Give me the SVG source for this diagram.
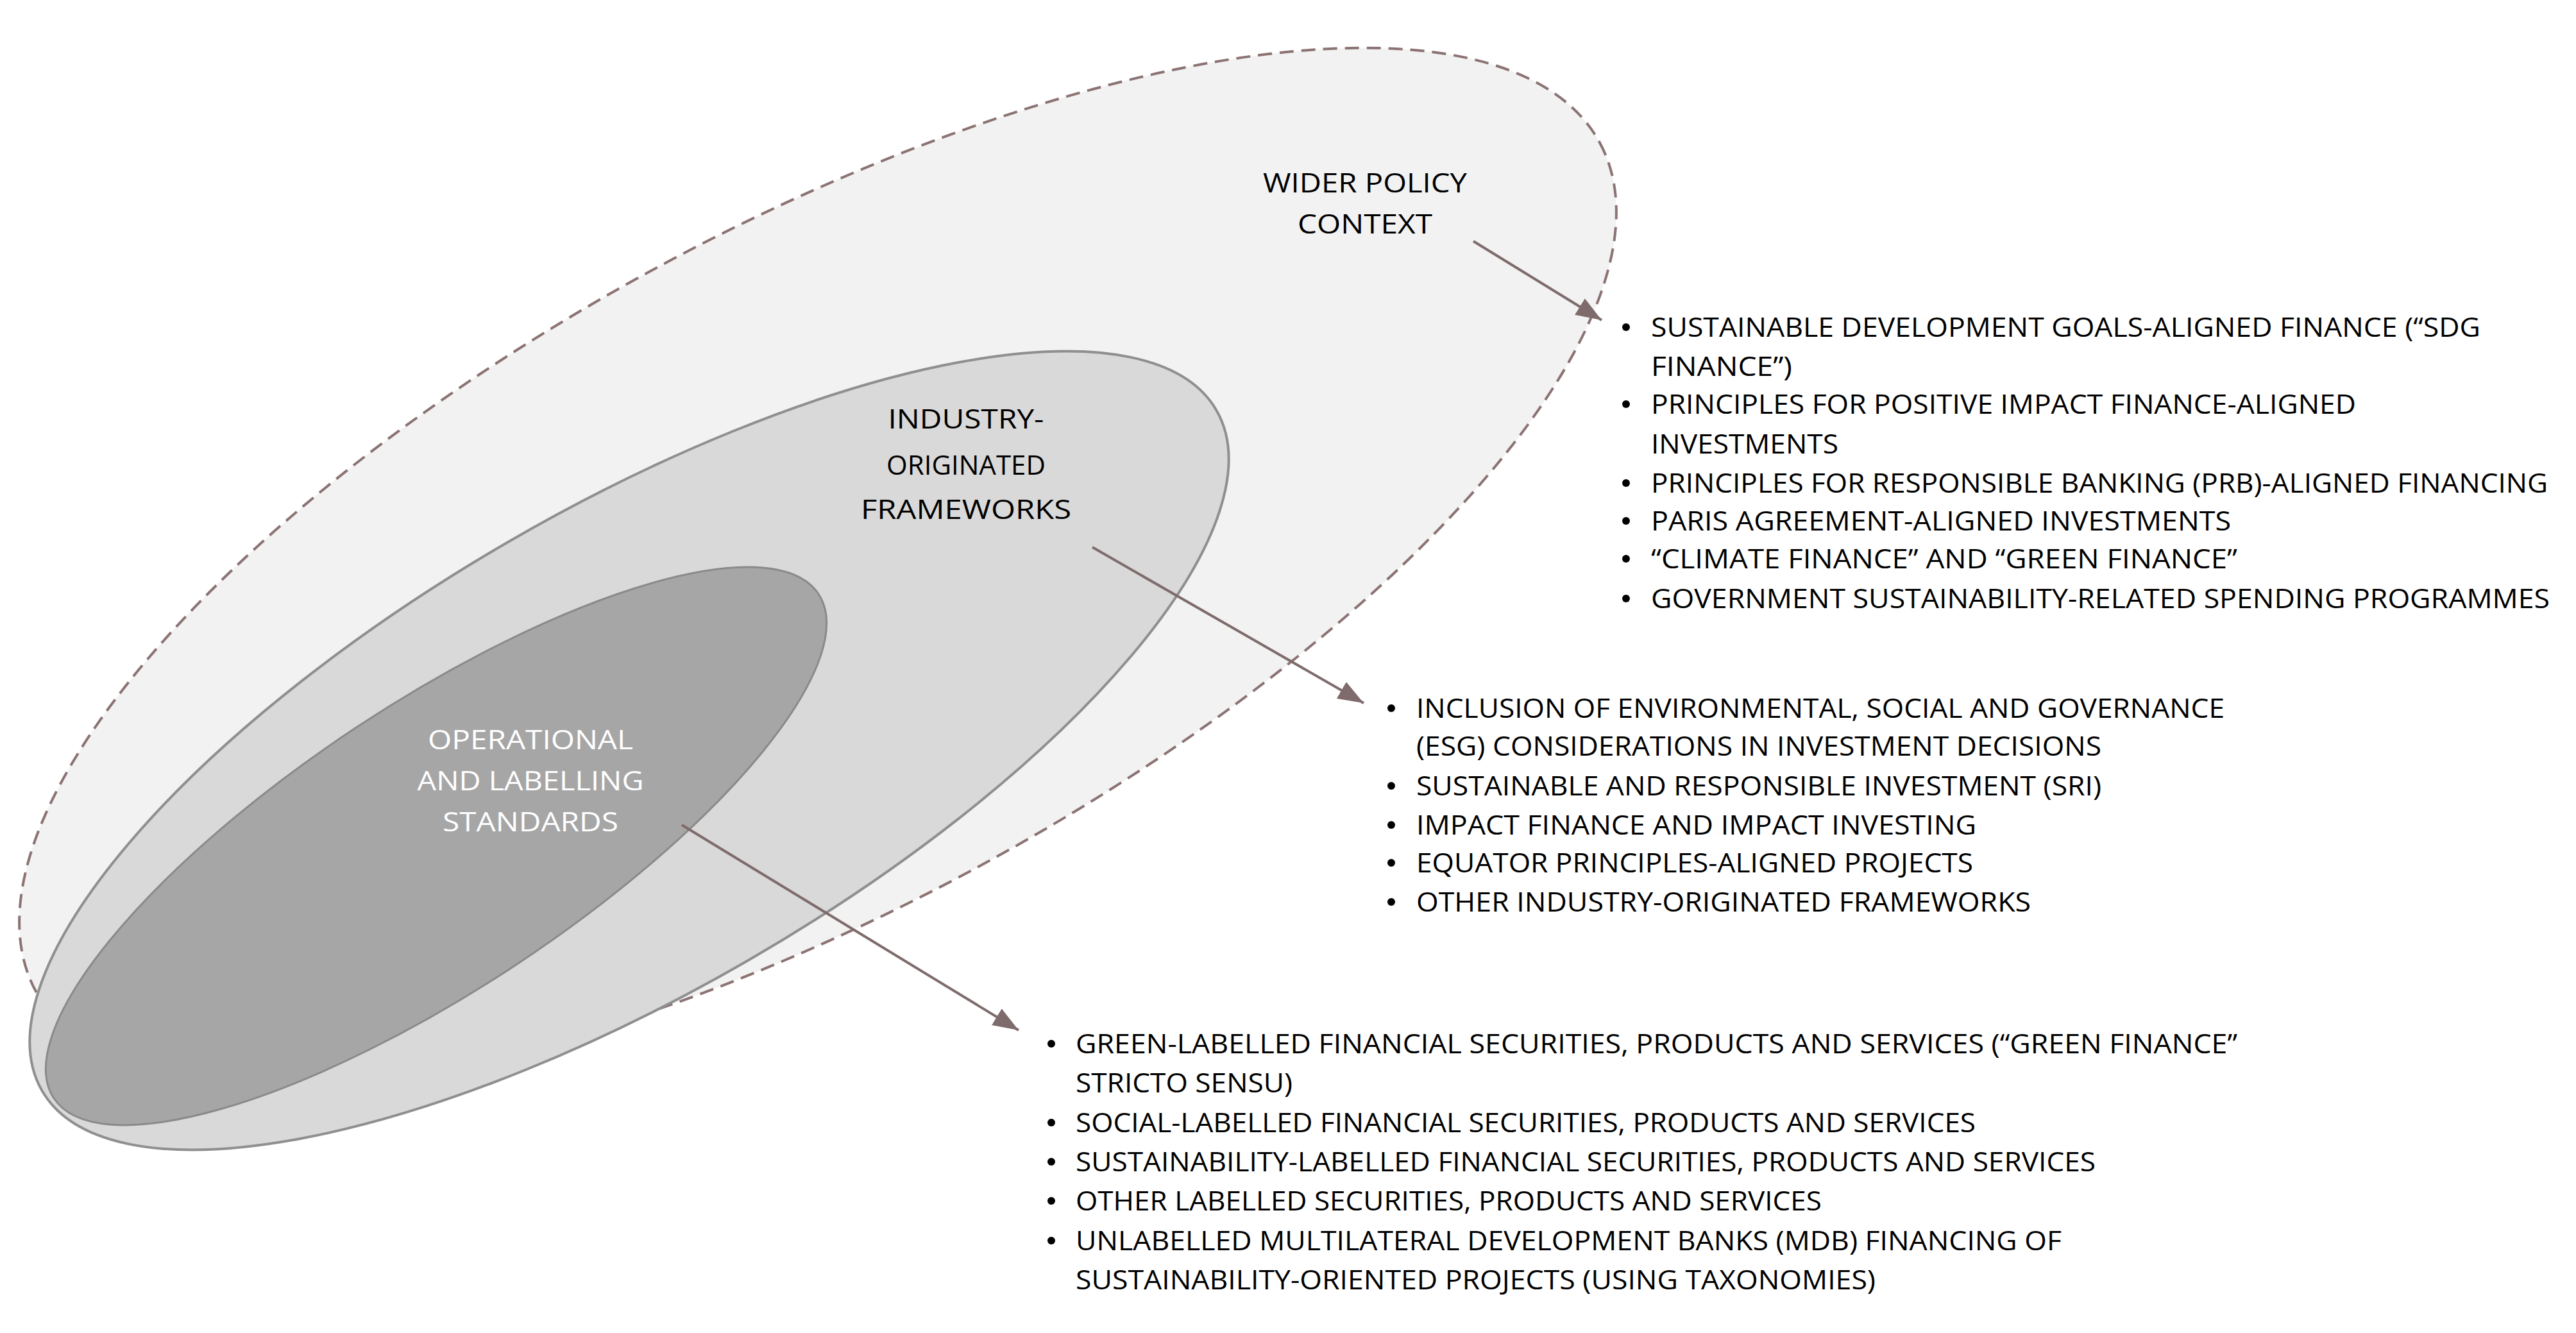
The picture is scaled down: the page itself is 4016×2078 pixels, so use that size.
<svg xmlns="http://www.w3.org/2000/svg" width="4016" height="2078" viewBox="0 0 4016 2078">
<style>
text{font-family:"Open Sans","Liberation Sans",sans-serif;font-size:42px;fill:#000}
.w{fill:#fff}
.c{text-anchor:middle}
.b{fill:#000}
.con{stroke:#7f6b6b;stroke-width:4;fill:none}
</style>
<defs>
<marker id="ah" markerUnits="userSpaceOnUse" markerWidth="44" markerHeight="30" refX="40" refY="15" orient="auto">
<path d="M0,0 L40,15 L0,30 Z" fill="#7f6b6b"/>
</marker>
</defs>
<rect width="4016" height="2078" fill="#fff"/>
<g id="wider">
<ellipse cx="1275" cy="884" rx="1387" ry="530" transform="rotate(-28.5 1275 884)" fill="#f2f2f2" stroke="#8c7373" stroke-width="4" stroke-dasharray="22 12"/>
<text class="c" x="2128" y="300" textLength="318" lengthAdjust="spacingAndGlyphs">WIDER POLICY</text>
<text class="c" x="2128" y="364" textLength="210" lengthAdjust="spacingAndGlyphs">CONTEXT</text>
</g>
<g id="industry">
<ellipse cx="981" cy="1170" rx="1058" ry="376" transform="rotate(-30.1 981 1170)" fill="#d9d9d9" stroke="#8f8f8f" stroke-width="4"/>
<text class="c" x="1506" y="668" textLength="243" lengthAdjust="spacingAndGlyphs">INDUSTRY-</text>
<text class="c" x="1506" y="740" textLength="248" lengthAdjust="spacingAndGlyphs">ORIGINATED</text>
<text class="c" x="1506" y="809" textLength="328" lengthAdjust="spacingAndGlyphs">FRAMEWORKS</text>
</g>
<g id="operational">
<ellipse cx="680" cy="1319" rx="714" ry="223" transform="rotate(-33.4 680 1319)" fill="#a6a6a6" stroke="#8a8a8a" stroke-width="3"/>
<text class="c w" x="827" y="1168" textLength="320" lengthAdjust="spacingAndGlyphs">OPERATIONAL</text>
<text class="c w" x="827" y="1232" textLength="353" lengthAdjust="spacingAndGlyphs">AND LABELLING</text>
<text class="c w" x="827" y="1296" textLength="274" lengthAdjust="spacingAndGlyphs">STANDARDS</text>
</g>
<g id="connectors">
<line class="con" x1="2297" y1="376" x2="2497" y2="499" marker-end="url(#ah)"/>
<line class="con" x1="1703" y1="853" x2="2126" y2="1096" marker-end="url(#ah)"/>
<line class="con" x1="1063" y1="1286" x2="1588" y2="1606" marker-end="url(#ah)"/>
</g>
<g id="list1">
<circle class="b" cx="2535" cy="510" r="6"/>
<text x="2574" y="525" textLength="1293" lengthAdjust="spacingAndGlyphs">SUSTAINABLE DEVELOPMENT GOALS-ALIGNED FINANCE (“SDG</text>
<text x="2574" y="586" textLength="220" lengthAdjust="spacingAndGlyphs">FINANCE”)</text>
<circle class="b" cx="2535" cy="630" r="6"/>
<text x="2574" y="645" textLength="1099" lengthAdjust="spacingAndGlyphs">PRINCIPLES FOR POSITIVE IMPACT FINANCE-ALIGNED</text>
<text x="2574" y="707" textLength="292" lengthAdjust="spacingAndGlyphs">INVESTMENTS</text>
<circle class="b" cx="2535" cy="753" r="6"/>
<text x="2574" y="768" textLength="1398" lengthAdjust="spacingAndGlyphs">PRINCIPLES FOR RESPONSIBLE BANKING (PRB)-ALIGNED FINANCING</text>
<circle class="b" cx="2535" cy="812" r="6"/>
<text x="2574" y="827" textLength="904" lengthAdjust="spacingAndGlyphs">PARIS AGREEMENT-ALIGNED INVESTMENTS</text>
<circle class="b" cx="2535" cy="871" r="6"/>
<text x="2574" y="886" textLength="914" lengthAdjust="spacingAndGlyphs">“CLIMATE FINANCE” AND “GREEN FINANCE”</text>
<circle class="b" cx="2535" cy="933" r="6"/>
<text x="2574" y="948" textLength="1401" lengthAdjust="spacingAndGlyphs">GOVERNMENT SUSTAINABILITY-RELATED SPENDING PROGRAMMES</text>
</g>
<g id="list2">
<circle class="b" cx="2169" cy="1104" r="6"/>
<text x="2208" y="1119" textLength="1260" lengthAdjust="spacingAndGlyphs">INCLUSION OF ENVIRONMENTAL, SOCIAL AND GOVERNANCE</text>
<text x="2208" y="1178" textLength="1068" lengthAdjust="spacingAndGlyphs">(ESG) CONSIDERATIONS IN INVESTMENT DECISIONS</text>
<circle class="b" cx="2169" cy="1225" r="6"/>
<text x="2208" y="1240" textLength="1068" lengthAdjust="spacingAndGlyphs">SUSTAINABLE AND RESPONSIBLE INVESTMENT (SRI)</text>
<circle class="b" cx="2169" cy="1286" r="6"/>
<text x="2208" y="1301" textLength="873" lengthAdjust="spacingAndGlyphs">IMPACT FINANCE AND IMPACT INVESTING</text>
<circle class="b" cx="2169" cy="1345" r="6"/>
<text x="2208" y="1360" textLength="868" lengthAdjust="spacingAndGlyphs">EQUATOR PRINCIPLES-ALIGNED PROJECTS</text>
<circle class="b" cx="2169" cy="1406" r="6"/>
<text x="2208" y="1421" textLength="958" lengthAdjust="spacingAndGlyphs">OTHER INDUSTRY-ORIGINATED FRAMEWORKS</text>
</g>
<g id="list3">
<circle class="b" cx="1639" cy="1627" r="6"/>
<text x="1677" y="1642" textLength="1811" lengthAdjust="spacingAndGlyphs">GREEN-LABELLED FINANCIAL SECURITIES, PRODUCTS AND SERVICES (“GREEN FINANCE”</text>
<text x="1677" y="1703" textLength="338" lengthAdjust="spacingAndGlyphs">STRICTO SENSU)</text>
<circle class="b" cx="1639" cy="1750" r="6"/>
<text x="1677" y="1765" textLength="1403" lengthAdjust="spacingAndGlyphs">SOCIAL-LABELLED FINANCIAL SECURITIES, PRODUCTS AND SERVICES</text>
<circle class="b" cx="1639" cy="1811" r="6"/>
<text x="1677" y="1826" textLength="1590" lengthAdjust="spacingAndGlyphs">SUSTAINABILITY-LABELLED FINANCIAL SECURITIES, PRODUCTS AND SERVICES</text>
<circle class="b" cx="1639" cy="1872" r="6"/>
<text x="1677" y="1887" textLength="1163" lengthAdjust="spacingAndGlyphs">OTHER LABELLED SECURITIES, PRODUCTS AND SERVICES</text>
<circle class="b" cx="1639" cy="1934" r="6"/>
<text x="1677" y="1949" textLength="1537" lengthAdjust="spacingAndGlyphs">UNLABELLED MULTILATERAL DEVELOPMENT BANKS (MDB) FINANCING OF</text>
<text x="1677" y="2010" textLength="1247" lengthAdjust="spacingAndGlyphs">SUSTAINABILITY-ORIENTED PROJECTS (USING TAXONOMIES)</text>
</g>
</svg>
